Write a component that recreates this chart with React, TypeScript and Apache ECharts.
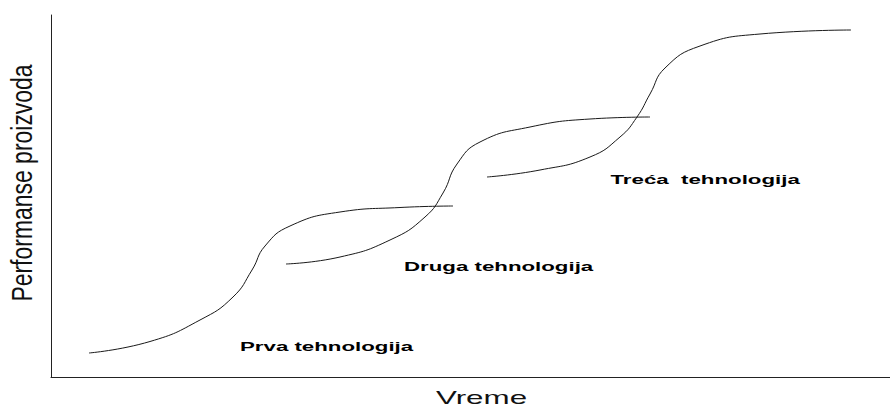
import React, { useEffect, useRef } from "react";
import * as echarts from "echarts";

// Unlabelled axes: x = time, y = product performance (units)
const prvaTehnologija: number[][] = [
  [38, 24.5], [99, 36], [149, 57.5], [182, 80.5], [201, 107.5], [214, 131.5],
  [239, 151.5], [289, 165.5], [349, 170], [402, 171.5],
];
const drugaTehnologija: number[][] = [
  [235, 113.5], [289, 120.5], [339, 137.5], [374, 160.5], [392, 184.5], [406, 213.5],
  [429, 235.5], [479, 250.5], [539, 258.5], [599, 260.5],
];
const trecaTehnologija: number[][] = [
  [436, 200.5], [489, 207.5], [539, 220.5], [569, 240.5], [586, 260.5], [599, 283.5],
  [614, 309.5], [649, 331.5], [709, 343.5], [800, 347.5],
];
const seriesNames = ["Prva tehnologija", "Druga tehnologija", "Treća  tehnologija"];
const xTitle = "Vreme";
const yTitle = "Performanse proizvoda";

const FONT = "'Liberation Sans', Arial, Helvetica, sans-serif";
const STRETCH = 1.65;

export default function App() {
  const ref = useRef<HTMLDivElement>(null);
  useEffect(() => {
    if (!ref.current) return;
    const chart = echarts.init(ref.current, undefined, { renderer: "svg" });
    const lineSeries = (name: string, data: number[][]) => ({
      type: "line",
      name,
      data,
      smooth: 0.5,
      showSymbol: false,
      symbol: "none",
      lineStyle: { color: "#1a1a1a", width: 1 },
      silent: true,
    });
    const label = (text: string, x: number, y: number) => ({
      type: "text",
      x,
      y,
      scaleX: STRETCH,
      silent: true,
      style: {
        text,
        fill: "#000",
        font: `bold 13.5px ${FONT}`,
        textAlign: "left",
        textVerticalAlign: "middle",
      },
    });
    chart.setOption({
      animation: false,
      backgroundColor: "#fff",
      grid: { left: 51, top: 15, right: 0, bottom: 30.5, containLabel: false },
      xAxis: {
        type: "value",
        min: 0,
        max: 839,
        axisLine: { show: true, lineStyle: { color: "#222", width: 1 } },
        axisTick: { show: false },
        axisLabel: { show: false },
        splitLine: { show: false },
      },
      yAxis: {
        type: "value",
        min: 0,
        max: 362.5,
        axisLine: { show: true, lineStyle: { color: "#222", width: 1 } },
        axisTick: { show: false },
        axisLabel: { show: false },
        splitLine: { show: false },
      },
      series: [
        lineSeries(seriesNames[0], prvaTehnologija),
        lineSeries(seriesNames[1], drugaTehnologija),
        lineSeries(seriesNames[2], trecaTehnologija),
      ],
      graphic: [
        label(seriesNames[0], 240, 346),
        label(seriesNames[1], 404, 266.5),
        label(seriesNames[2], 610.5, 179.5),
        {
          type: "text",
          x: 481.5,
          y: 397,
          scaleX: STRETCH,
          silent: true,
          style: {
            text: xTitle,
            fill: "#111",
            font: `19px ${FONT}`,
            textAlign: "center",
            textVerticalAlign: "middle",
          },
        },
        {
          type: "text",
          x: 22,
          y: 183,
          rotation: Math.PI / 2,
          scaleX: 0.82,
          scaleY: 1.05,
          silent: true,
          style: {
            text: yTitle,
            fill: "#111",
            font: `28px ${FONT}`,
            textAlign: "center",
            textVerticalAlign: "middle",
          },
        },
      ],
    });
    return () => chart.dispose();
  }, []);
  return (
    <div
      ref={ref}
      style={{ position: "fixed", left: 0, top: 0, width: 890, height: 408, background: "#fff" }}
    />
  );
}
